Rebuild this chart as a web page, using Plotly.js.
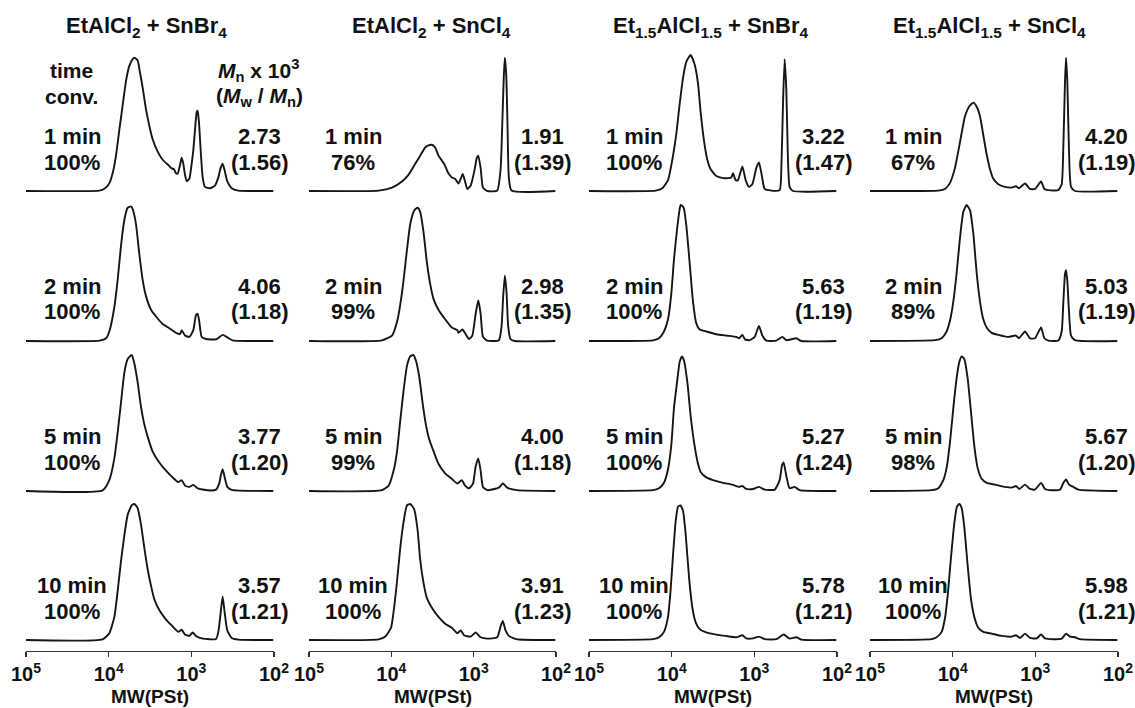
<!DOCTYPE html>
<html>
<head>
<meta charset="utf-8">
<script src="https://cdn.plot.ly/plotly-3.0.1.min.js"></script>
<style>html,body{margin:0;padding:0;background:#fff;}#chart{width:1135px;height:708px;}</style>
</head>
<body>
<div id="chart"></div>
<script>
// ---- Panel headings, labels ----
const columnTitles = [
  'EtAlCl<sub>2</sub> + SnBr<sub>4</sub>',
  'EtAlCl<sub>2</sub> + SnCl<sub>4</sub>',
  'Et<sub>1.5</sub>AlCl<sub>1.5</sub> + SnBr<sub>4</sub>',
  'Et<sub>1.5</sub>AlCl<sub>1.5</sub> + SnCl<sub>4</sub>'
];
const times = ['1 min', '2 min', '5 min', '10 min'];
const conv = [
  ['100%', '100%', '100%', '100%'],
  ['76%', '99%', '99%', '100%'],
  ['100%', '100%', '100%', '100%'],
  ['67%', '89%', '98%', '100%']
];
const mnVals = [
  ['2.73', '4.06', '3.77', '3.57'],
  ['1.91', '2.98', '4.00', '3.91'],
  ['3.22', '5.63', '5.27', '5.78'],
  ['4.20', '5.03', '5.67', '5.98']
];
const pdiVals = [
  ['(1.56)', '(1.18)', '(1.20)', '(1.21)'],
  ['(1.39)', '(1.35)', '(1.18)', '(1.23)'],
  ['(1.47)', '(1.19)', '(1.24)', '(1.21)'],
  ['(1.19)', '(1.19)', '(1.20)', '(1.21)']
];
const tickVals = [100000, 10000, 1000, 100];
const tickLabels = ['10<sup>5</sup>', '10<sup>4</sup>', '10<sup>3</sup>', '10<sup>2</sup>'];

// ---- GPC traces: molecular weight (PSt) and normalized RI signal ----
// Column 1: EtAlCl2 + SnBr4
const mw_c1_r1 = [100000,12970,11280,9820,8955,8150,7430,6775,6165,5625,5125,4895,4460,4260,3880,3535,3222,2937,2555,2222,1897,1730,1622,1532,1462,1371,1309,1250,1194,1138,1057,991,946,903,861,838,807,771,729,684,594,518,471,442,418,395,367,325,270,102];
const sig_c1_r1 = [0,0.003,0.016,0.056,0.13,0.26,0.45,0.63,0.81,0.92,0.97,0.98,0.96,0.9,0.76,0.6,0.48,0.38,0.29,0.23,0.19,0.166,0.16,0.13,0.128,0.19,0.244,0.2,0.12,0.072,0.09,0.2,0.3,0.45,0.58,0.59,0.5,0.3,0.1,0.03,0.02,0.04,0.1,0.17,0.2,0.15,0.07,0.02,0.003,0];
const mw_c1_r2 = [100000,12970,10770,9820,8535,7785,7095,6460,5890,5370,5125,4670,4260,3880,3535,3076,2675,2222,1845,1532,1371,1309,1194,1057,946,879,838,800,750,665,503,418,363,316,102];
const sig_c1_r2 = [0,0.003,0.02,0.07,0.25,0.45,0.7,0.89,0.98,0.99,0.97,0.86,0.64,0.45,0.33,0.23,0.18,0.125,0.094,0.06,0.05,0.08,0.04,0.03,0.08,0.19,0.2,0.14,0.03,0.015,0.012,0.045,0.025,0.005,0];
const mw_c1_r3 = [100000,11840,9820,8535,7785,7095,6460,5890,5272,4895,4460,4065,3705,3375,2937,2440,2025,1682,1436,1309,1194,1057,946,838,635,503,458,438,418,395,367,325,102];
const sig_c1_r3 = [0,0.005,0.08,0.24,0.43,0.65,0.87,0.97,1.0,0.94,0.8,0.62,0.49,0.4,0.29,0.21,0.15,0.1,0.065,0.08,0.04,0.03,0.045,0.02,0.005,0.01,0.06,0.12,0.16,0.1,0.03,0.008,0];
const mw_c1_r4 = [100000,11840,9820,8535,7785,7095,6460,5890,5272,4895,4460,4065,3705,3375,3076,2805,2440,2025,1682,1436,1309,1194,1057,964,879,729,503,471,442,418,395,367,325,270,102];
const sig_c1_r4 = [0,0.005,0.05,0.17,0.36,0.58,0.77,0.92,0.99,1.0,0.97,0.85,0.68,0.52,0.4,0.3,0.22,0.15,0.1,0.06,0.075,0.04,0.03,0.055,0.03,0.01,0.008,0.06,0.2,0.32,0.2,0.07,0.015,0.003,0];

// Column 2: EtAlCl2 + SnCl4
const mw_c2_r1 = [100000,14230,9820,7430,6165,5125,4460,3880,3535,3222,2937,2675,2286,2025,1845,1682,1532,1436,1358,1273,1194,1087,964,920,879,823,771,684,518,471,450,430,418,402,388,374,347,102];
const sig_c2_r1 = [0,0.003,0.025,0.07,0.12,0.2,0.26,0.32,0.335,0.34,0.32,0.26,0.2,0.13,0.1,0.09,0.055,0.09,0.125,0.07,0.015,0.04,0.17,0.24,0.26,0.17,0.025,0,0.003,0.16,0.48,0.85,0.98,0.85,0.48,0.1,0.003,0];
const mw_c2_r2 = [100000,12970,9820,8535,7785,7095,6460,5890,5272,4800,4460,4065,3705,3375,3076,2675,2222,1845,1578,1532,1371,1250,1138,1038,946,879,823,771,684,494,458,438,418,399,381,357,316,102];
const sig_c2_r2 = [0,0.005,0.04,0.14,0.27,0.45,0.67,0.86,0.96,0.98,0.95,0.8,0.58,0.42,0.31,0.23,0.16,0.1,0.08,0.06,0.085,0.05,0.015,0.04,0.2,0.3,0.2,0.03,0.003,0.006,0.11,0.33,0.48,0.36,0.11,0.015,0,0];
const mw_c2_r3 = [100000,12970,10770,9380,8535,7785,7095,6460,5890,5420,5035,4581,4178,3811,3467,3020,2675,2222,1845,1578,1396,1273,1138,1019,946,879,823,771,684,494,442,392,296,102];
const sig_c2_r3 = [0,0.006,0.04,0.15,0.29,0.52,0.74,0.92,0.99,1.0,0.96,0.84,0.65,0.49,0.38,0.28,0.2,0.13,0.09,0.055,0.08,0.04,0.02,0.055,0.18,0.24,0.15,0.03,0.006,0.025,0.055,0.025,0.006,0];
const mw_c2_r4 = [100000,14230,11840,10090,9380,8535,7785,7095,6460,5890,5272,4800,4460,4065,3705,3162,2675,2222,1845,1578,1436,1309,1087,946,823,684,518,471,442,410,374,325,283,102];
const sig_c2_r4 = [0,0.005,0.025,0.09,0.21,0.43,0.68,0.87,0.99,1.0,0.96,0.81,0.59,0.42,0.31,0.23,0.17,0.12,0.09,0.05,0.07,0.035,0.025,0.055,0.02,0.01,0.02,0.1,0.14,0.07,0.03,0.012,0.004,0];

// Column 3: Et1.5AlCl1.5 + SnBr4
const mw_c3_r1 = [100000,15630,12970,11070,9820,8790,8000,7295,6650,5890,5272,4800,4460,4065,3705,3375,2884,2393,2083,1897,1811,1682,1578,1396,1273,1161,1057,946,879,815,750,622,494,471,450,430,410,392,374,341,102];
const sig_c3_r1 = [0,0.003,0.02,0.08,0.23,0.42,0.64,0.83,0.95,1.0,0.93,0.79,0.58,0.37,0.23,0.16,0.11,0.095,0.095,0.1,0.13,0.08,0.08,0.18,0.08,0.03,0.05,0.17,0.21,0.12,0.015,0.003,0.006,0.17,0.64,0.97,0.74,0.23,0.03,0,0];
const mw_c3_r2 = [100000,16830,14230,12390,11070,10090,9380,8610,8000,7785,7160,6650,6053,5521,5035,4581,3811,2884,2222,1652,1532,1396,1297,1138,991,879,800,716,542,458,410,310,270,102];
const sig_c3_r2 = [0,0.005,0.02,0.07,0.16,0.35,0.6,0.82,0.97,1.0,0.98,0.85,0.57,0.29,0.13,0.085,0.07,0.05,0.04,0.03,0.02,0.045,0.012,0.006,0.03,0.11,0.04,0.003,0.003,0.03,0.006,0.02,0,0];
const mw_c3_r3 = [100000,16830,14230,12390,11070,10090,9380,8610,8000,7500,7095,6460,5890,5272,4800,4460,3811,3162,2393,1845,1532,1396,1250,1038,879,750,567,494,462,442,410,374,325,283,102];
const sig_c3_r3 = [0,0.006,0.02,0.06,0.16,0.34,0.61,0.8,0.95,0.99,0.96,0.8,0.55,0.33,0.2,0.14,0.1,0.08,0.06,0.047,0.03,0.037,0.015,0.015,0.03,0.01,0.01,0.08,0.19,0.21,0.11,0.02,0.03,0.006,0];
const mw_c3_r4 = [100000,16830,14230,12390,11070,10380,9638,8955,8375,7855,7295,6775,6165,5625,5125,4581,3811,2884,2222,1652,1396,1250,1038,879,750,542,442,374,310,270,102];
const sig_c3_r4 = [0,0.006,0.02,0.06,0.17,0.34,0.62,0.87,0.98,0.99,0.95,0.78,0.46,0.24,0.13,0.08,0.056,0.04,0.03,0.02,0.035,0.012,0.012,0.025,0.006,0.006,0.04,0.01,0.02,0.003,0];

// Column 4: Et1.5AlCl1.5 + SnCl4
const mw_c4_r1 = [100000,14890,12390,10770,9380,8150,7095,6340,5625,5125,4670,4260,3880,3535,3222,2805,2329,1932,1714,1578,1334,1161,1009,853,778,697,527,480,458,438,425,410,392,370,331,102];
const sig_c4_r1 = [0,0.003,0.015,0.06,0.17,0.36,0.55,0.62,0.65,0.62,0.55,0.41,0.27,0.16,0.09,0.05,0.03,0.025,0.035,0.02,0.055,0.015,0.015,0.07,0.015,0.006,0.006,0.05,0.33,0.8,0.98,0.8,0.3,0.03,0,0];
const mw_c4_r2 = [100000,16360,13590,11840,10770,9820,8955,8150,7430,6775,6165,5625,5125,4670,4260,3880,3375,2805,2122,1714,1578,1334,1161,1009,853,778,697,527,480,458,438,425,410,392,370,331,102];
const sig_c4_r2 = [0,0.006,0.02,0.07,0.15,0.29,0.5,0.76,0.95,1.0,0.96,0.79,0.5,0.29,0.16,0.1,0.06,0.045,0.03,0.04,0.02,0.07,0.02,0.02,0.1,0.02,0.003,0.003,0.07,0.29,0.49,0.52,0.44,0.22,0.04,0.006,0];
const mw_c4_r3 = [100000,17950,14890,12970,11840,10770,9820,8955,8300,7785,7230,6590,6000,5470,4990,4460,3880,3076,2329,1932,1714,1563,1334,1161,1009,853,764,635,503,458,425,392,347,302,102];
const sig_c4_r3 = [0,0.006,0.02,0.08,0.17,0.36,0.61,0.83,0.95,0.99,0.97,0.83,0.58,0.33,0.17,0.09,0.06,0.047,0.03,0.025,0.037,0.015,0.047,0.015,0.01,0.06,0.015,0.006,0.01,0.06,0.085,0.047,0.03,0.01,0];
const mw_c4_r4 = [100000,17950,15630,13590,12390,11480,10470,9550,8870,8300,7785,7230,6590,6000,5470,4895,4260,3375,2555,1932,1714,1532,1334,1161,964,853,764,606,480,425,381,331,288,102];
const sig_c4_r4 = [0,0.006,0.02,0.06,0.16,0.33,0.61,0.86,0.98,1.0,0.97,0.83,0.55,0.3,0.17,0.09,0.06,0.047,0.03,0.025,0.035,0.015,0.047,0.015,0.012,0.04,0.012,0.006,0.01,0.047,0.025,0.02,0.006,0];

const series = [
  [[mw_c1_r1, sig_c1_r1], [mw_c1_r2, sig_c1_r2], [mw_c1_r3, sig_c1_r3], [mw_c1_r4, sig_c1_r4]],
  [[mw_c2_r1, sig_c2_r1], [mw_c2_r2, sig_c2_r2], [mw_c2_r3, sig_c2_r3], [mw_c2_r4, sig_c2_r4]],
  [[mw_c3_r1, sig_c3_r1], [mw_c3_r2, sig_c3_r2], [mw_c3_r3, sig_c3_r3], [mw_c3_r4, sig_c3_r4]],
  [[mw_c4_r1, sig_c4_r1], [mw_c4_r2, sig_c4_r2], [mw_c4_r3, sig_c4_r3], [mw_c4_r4, sig_c4_r4]]
];

// ---- Geometry (pixels) ----
const W = 1135, H = 708;
const colSpan = [[26, 274], [309, 556], [589, 837], [870, 1118]];
const rowBase = [191, 341, 491, 640];
const peakPx = 136;
const axisLineY = 651;
const leftLabelX = [72, 353, 634, 913];
const rightLabelX = [259, 542, 823, 1106];
const titleX = [146, 431, 710, 989];

const FONT = 'Liberation Sans, Arial, Helvetica, sans-serif';
const px2x = p => p / W;
const px2y = p => 1 - p / H;

const traces = [];
series.forEach((col, c) => {
  col.forEach((pair, r) => {
    traces.push({
      type: 'scatter', mode: 'lines',
      x: pair[0], y: pair[1],
      xaxis: c === 0 ? 'x' : 'x' + (c + 1),
      yaxis: r === 0 ? 'y' : 'y' + (r + 1),
      line: {color: '#151515', width: 1.9, shape: 'spline', smoothing: 0.5},
      hoverinfo: 'skip', showlegend: false
    });
  });
});

const layout = {
  width: W, height: H,
  margin: {l: 0, r: 0, t: 0, b: 0},
  paper_bgcolor: '#ffffff', plot_bgcolor: 'rgba(0,0,0,0)',
  showlegend: false,
  font: {family: FONT, color: '#111', size: 20},
  annotations: []
};

colSpan.forEach((s, c) => {
  const key = c === 0 ? 'xaxis' : 'xaxis' + (c + 1);
  layout[key] = {
    type: 'log', range: [5, 2], autorange: false,
    domain: [px2x(s[0]), px2x(s[1])],
    anchor: 'free', position: px2y(axisLineY),
    showline: true, linecolor: '#333', linewidth: 1.4,
    ticks: 'outside', ticklen: 5, tickwidth: 1.4, tickcolor: '#333',
    tickvals: tickVals, ticktext: tickLabels,
    tickfont: {family: FONT, size: 20, color: '#111', weight: 700},
    showgrid: false, zeroline: false, fixedrange: true
  };
});

rowBase.forEach((b, r) => {
  const key = r === 0 ? 'yaxis' : 'yaxis' + (r + 1);
  layout[key] = {
    range: [-0.05, 1.05], autorange: false,
    domain: [px2y(b + 0.05 * peakPx), px2y(b - 1.05 * peakPx)],
    visible: false, showgrid: false, zeroline: false, fixedrange: true
  };
});

function ann(text, xp, yp, size) {
  layout.annotations.push({
    text: text, xref: 'paper', yref: 'paper',
    x: px2x(xp), y: px2y(yp), xanchor: 'center', yanchor: 'middle',
    showarrow: false,
    font: {family: FONT, size: size, color: '#111', weight: 700}
  });
}

// column titles
columnTitles.forEach((t, c) => ann(t, titleX[c], 27, 22));
// header row
ann('time', 71, 70, 21);
ann('conv.', 71, 97, 21);
ann('<i>M</i><sub>n</sub> x 10<sup>3</sup>', 258, 70, 21);
ann('(<i>M</i><sub>w</sub> / <i>M</i><sub>n</sub>)', 259, 97, 21);
// per-panel labels
for (let c = 0; c < 4; c++) {
  for (let r = 0; r < 4; r++) {
    const b = rowBase[r];
    ann(times[r], leftLabelX[c], b - 55, 22);
    ann(conv[c][r], leftLabelX[c], b - 29, 22);
    ann(mnVals[c][r], rightLabelX[c], b - 55, 22);
    ann(pdiVals[c][r], rightLabelX[c], b - 29, 22);
  }
  ann('MW(PSt)', (colSpan[c][0] + colSpan[c][1]) / 2, 696, 19);
}

Plotly.newPlot('chart', traces, layout, {staticPlot: true, displayModeBar: false});
</script>
</body>
</html>
